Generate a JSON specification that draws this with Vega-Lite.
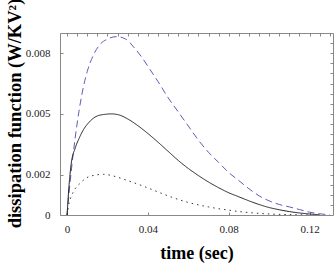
{
  "$schema": "https://vega.github.io/schema/vega-lite/v6.json",
  "width": 273,
  "height": 182,
  "autosize": "none",
  "padding": {"left": 60, "top": 33, "right": 2, "bottom": 61},
  "background": "white",
  "config": {
    "view": {"stroke": null},
    "axis": {
      "labelFont": "Liberation Serif",
      "labelFontSize": 11,
      "labelColor": "#222",
      "titleFont": "Liberation Serif",
      "titleFontWeight": "bold",
      "titleFontSize": 18,
      "titleColor": "#000",
      "domainColor": "#888",
      "tickColor": "#888",
      "grid": false,
      "labelFlush": false,
      "labelOverlap": false,
      "labelBound": false
    }
  },
  "data": {
    "values": [
      {"t": 0, "v": 0, "s": "dashed"},
      {"t": 0.001, "v": 0.0011, "s": "dashed"},
      {"t": 0.002, "v": 0.0021, "s": "dashed"},
      {"t": 0.004, "v": 0.0038, "s": "dashed"},
      {"t": 0.006, "v": 0.0052, "s": "dashed"},
      {"t": 0.008, "v": 0.0063, "s": "dashed"},
      {"t": 0.01, "v": 0.0071, "s": "dashed"},
      {"t": 0.013, "v": 0.0079, "s": "dashed"},
      {"t": 0.016, "v": 0.0084, "s": "dashed"},
      {"t": 0.02, "v": 0.0087, "s": "dashed"},
      {"t": 0.0245, "v": 0.00882, "s": "dashed"},
      {"t": 0.029, "v": 0.0087, "s": "dashed"},
      {"t": 0.033, "v": 0.0083, "s": "dashed"},
      {"t": 0.037, "v": 0.0078, "s": "dashed"},
      {"t": 0.041, "v": 0.0072, "s": "dashed"},
      {"t": 0.045, "v": 0.0066, "s": "dashed"},
      {"t": 0.05, "v": 0.0058, "s": "dashed"},
      {"t": 0.055, "v": 0.0051, "s": "dashed"},
      {"t": 0.06, "v": 0.0044, "s": "dashed"},
      {"t": 0.065, "v": 0.0037, "s": "dashed"},
      {"t": 0.07, "v": 0.0031, "s": "dashed"},
      {"t": 0.075, "v": 0.0026, "s": "dashed"},
      {"t": 0.08, "v": 0.0021, "s": "dashed"},
      {"t": 0.085, "v": 0.0017, "s": "dashed"},
      {"t": 0.09, "v": 0.0013, "s": "dashed"},
      {"t": 0.095, "v": 0.00095, "s": "dashed"},
      {"t": 0.1, "v": 0.0007, "s": "dashed"},
      {"t": 0.105, "v": 0.00052, "s": "dashed"},
      {"t": 0.11, "v": 0.0004, "s": "dashed"},
      {"t": 0.115, "v": 0.00027, "s": "dashed"},
      {"t": 0.12, "v": 0.00014, "s": "dashed"},
      {"t": 0.125, "v": 0.00006, "s": "dashed"},
      {"t": 0.13, "v": 0.00001, "s": "dashed"},
      {"t": 0, "v": 0, "s": "solid"},
      {"t": 0.001, "v": 0.0015, "s": "solid"},
      {"t": 0.002, "v": 0.0025, "s": "solid"},
      {"t": 0.004, "v": 0.0033, "s": "solid"},
      {"t": 0.006, "v": 0.0038, "s": "solid"},
      {"t": 0.008, "v": 0.0042, "s": "solid"},
      {"t": 0.011, "v": 0.0046, "s": "solid"},
      {"t": 0.015, "v": 0.0049, "s": "solid"},
      {"t": 0.019, "v": 0.00498, "s": "solid"},
      {"t": 0.022, "v": 0.005, "s": "solid"},
      {"t": 0.026, "v": 0.00494, "s": "solid"},
      {"t": 0.03, "v": 0.00475, "s": "solid"},
      {"t": 0.035, "v": 0.00442, "s": "solid"},
      {"t": 0.04, "v": 0.00403, "s": "solid"},
      {"t": 0.045, "v": 0.0036, "s": "solid"},
      {"t": 0.05, "v": 0.00315, "s": "solid"},
      {"t": 0.055, "v": 0.0027, "s": "solid"},
      {"t": 0.06, "v": 0.0023, "s": "solid"},
      {"t": 0.065, "v": 0.00195, "s": "solid"},
      {"t": 0.07, "v": 0.00163, "s": "solid"},
      {"t": 0.075, "v": 0.00135, "s": "solid"},
      {"t": 0.08, "v": 0.0011, "s": "solid"},
      {"t": 0.085, "v": 0.0009, "s": "solid"},
      {"t": 0.09, "v": 0.0007, "s": "solid"},
      {"t": 0.095, "v": 0.00052, "s": "solid"},
      {"t": 0.1, "v": 0.00037, "s": "solid"},
      {"t": 0.105, "v": 0.00026, "s": "solid"},
      {"t": 0.11, "v": 0.00017, "s": "solid"},
      {"t": 0.115, "v": 0.0001, "s": "solid"},
      {"t": 0.12, "v": 0.00005, "s": "solid"},
      {"t": 0.125, "v": 0.00001, "s": "solid"},
      {"t": 0, "v": 0, "s": "dotted"},
      {"t": 0.001, "v": 0.0006, "s": "dotted"},
      {"t": 0.002, "v": 0.0009, "s": "dotted"},
      {"t": 0.004, "v": 0.0013, "s": "dotted"},
      {"t": 0.0065, "v": 0.00157, "s": "dotted"},
      {"t": 0.009, "v": 0.0018, "s": "dotted"},
      {"t": 0.012, "v": 0.00193, "s": "dotted"},
      {"t": 0.018, "v": 0.00201, "s": "dotted"},
      {"t": 0.024, "v": 0.0019, "s": "dotted"},
      {"t": 0.03, "v": 0.0017, "s": "dotted"},
      {"t": 0.036, "v": 0.00149, "s": "dotted"},
      {"t": 0.041, "v": 0.0013, "s": "dotted"},
      {"t": 0.047, "v": 0.00106, "s": "dotted"},
      {"t": 0.0524, "v": 0.00086, "s": "dotted"},
      {"t": 0.06, "v": 0.00062, "s": "dotted"},
      {"t": 0.065, "v": 0.0005, "s": "dotted"},
      {"t": 0.07, "v": 0.0004, "s": "dotted"},
      {"t": 0.075, "v": 0.00031, "s": "dotted"},
      {"t": 0.08, "v": 0.00024, "s": "dotted"},
      {"t": 0.085, "v": 0.00017, "s": "dotted"},
      {"t": 0.09, "v": 0.00012, "s": "dotted"},
      {"t": 0.1, "v": 0.00005, "s": "dotted"},
      {"t": 0.11, "v": 0.00002, "s": "dotted"},
      {"t": 0.12, "v": 0, "s": "dotted"}
    ]
  },
  "layer": [
    {
      "mark": {"type": "line", "interpolate": "monotone", "strokeWidth": 1, "clip": true},
      "encoding": {
        "x": {
          "field": "t", "type": "quantitative",
          "scale": {"domain": [-0.0035, 0.1316], "nice": false, "zero": false},
          "axis": {
            "orient": "bottom",
            "values": [0, 0.04, 0.08, 0.12],
            "format": ".2~f",
            "tickSize": -3,
            "labelPadding": 11,
            "title": "time (sec)",
            "titleY": 43,
            "titleBaseline": "alphabetic"
          }
        },
        "y": {
          "field": "v", "type": "quantitative",
          "scale": {"domain": [0, 0.009], "nice": false},
          "axis": {
            "orient": "left",
            "values": [0, 0.002, 0.005, 0.008],
            "format": ".3~f",
            "tickSize": -3,
            "labelPadding": 13,
            "title": "dissipation  function  (W/KV²)",
            "titleFontSize": 18.5,
            "titleX": -46,
            "titleY": 80,
            "titleAngle": -90,
            "titleBaseline": "middle",
            "titleAlign": "center"
          }
        },
        "color": {
          "field": "s", "type": "nominal",
          "scale": {"domain": ["dashed", "solid", "dotted"], "range": ["#5d5dbb", "#222222", "#333333"]},
          "legend": null
        },
        "strokeDash": {
          "field": "s", "type": "nominal",
          "scale": {"domain": ["dashed", "solid", "dotted"], "range": [[7, 4], [1, 0], [1.5, 4]]},
          "legend": null
        }
      }
    },
    {
      "mark": {"type": "line", "strokeOpacity": 0},
      "encoding": {
        "x": {
          "field": "t", "type": "quantitative",
          "scale": {"domain": [-0.0035, 0.1316], "nice": false, "zero": false},
          "axis": {
            "orient": "top",
            "values": [0, 0.005, 0.01, 0.015, 0.02, 0.025, 0.03, 0.035, 0.04, 0.045, 0.05, 0.055, 0.06, 0.065, 0.07, 0.075, 0.08, 0.085, 0.09, 0.095, 0.1, 0.105, 0.11, 0.115, 0.12, 0.125, 0.13],
            "labels": false,
            "tickSize": -3,
            "title": null
          }
        },
        "y": {
          "field": "v", "type": "quantitative",
          "scale": {"domain": [0, 0.009], "nice": false},
          "axis": {
            "orient": "right",
            "values": [0.0005, 0.001, 0.0015, 0.002, 0.0025, 0.003, 0.0035, 0.004, 0.0045, 0.005, 0.0055, 0.006, 0.0065, 0.007, 0.0075, 0.008, 0.0085],
            "labels": false,
            "tickSize": -3,
            "title": null
          }
        }
      }
    }
  ],
  "resolve": {"axis": {"x": "independent", "y": "independent"}}
}
